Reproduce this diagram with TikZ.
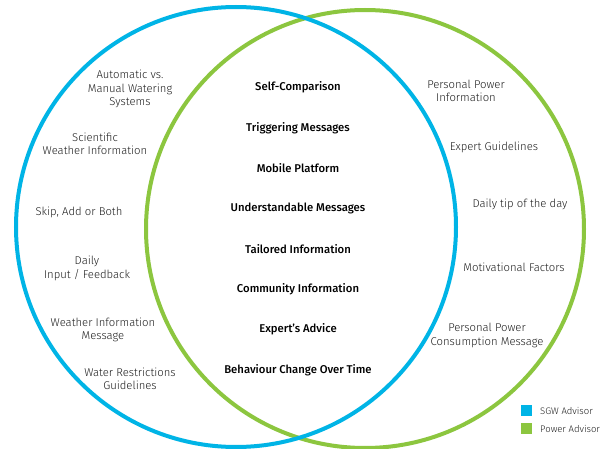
\documentclass[tikz,border=0pt]{standalone}
\usepackage{fontspec}
\setmainfont{Fira Sans Light}[BoldFont={Fira Sans Medium}]
\definecolor{sgwblue}{HTML}{00B4E6}
\definecolor{pwgreen}{HTML}{8CC63F}
\definecolor{txt}{HTML}{1E1E1E}
\begin{document}
\begin{tikzpicture}[x=1pt,y=-1pt,
  ring/.style={line width=4pt},
  side/.style={align=center,font=\fontsize{11.3}{13.2}\selectfont,text=txt,inner sep=0pt},
  core/.style={align=center,font=\fontsize{11.3}{13.2}\selectfont\bfseries,text=black,inner sep=0pt},
  legbox/.style={minimum size=11pt,inner sep=0pt},
  legtxt/.style={anchor=west,font=\fontsize{9.5}{11}\selectfont,text=txt,inner sep=0pt}]
\useasboundingbox (0,0) rectangle (600,449);
\fill[white] (0,0) rectangle (600,449);
\coordinate (cg) at (365,229);
\coordinate (cb) at (236,227);
\draw[ring,pwgreen] (cg) circle[radius=219pt];
\draw[ring,sgwblue] (cb) circle[radius=220pt];
% left
\node[side] (l1) at (130,89) {Automatic vs.\\Manual Watering\\Systems};
\node[side] (l2) at (95,143.5) {Scientific\\Weather Information};
\node[side] (l3) at (79,212) {Skip, Add or Both};
\node[side] (l4) at (87,268.5) {Daily\\Input / Feedback};
\node[side] (l5) at (103,330) {Weather Information\\Message};
\node[side] (l6) at (130,378.5) {Water Restrictions\\Guidelines};
% centre
\node[core] (c1) at (298,87) {Self-Comparison};
\node[core] (c2) at (298,128) {Triggering Messages};
\node[core] (c3) at (298,168) {Mobile Platform};
\node[core] (c4) at (298,208) {Understandable Messages};
\node[core] (c5) at (298,249) {Tailored Information};
\node[core] (c6) at (298,289) {Community Information};
\node[core] (c7) at (298,329) {Expert’s Advice};
\node[core] (c8) at (298,370) {Behaviour Change Over Time};
% right
\node[side] (r1) at (466,90.5) {Personal Power\\Information};
\node[side] (r2) at (494,147) {Expert Guidelines};
\node[side] (r3) at (520,204) {Daily tip of the day};
\node[side] (r4) at (514,267) {Motivational Factors};
\node[side] (r5) at (487,335.5) {Personal Power\\Consumption Message};
% legend
\node[legbox,fill=sgwblue] (k1) at (526.5,410.5) {};
\node[legbox,fill=pwgreen] (k2) at (526.5,428.5) {};
\node[legtxt] (t1) at (540,411) {SGW Advisor};
\node[legtxt] (t2) at (540,429) {Power Advisor};
\end{tikzpicture}
\end{document}
